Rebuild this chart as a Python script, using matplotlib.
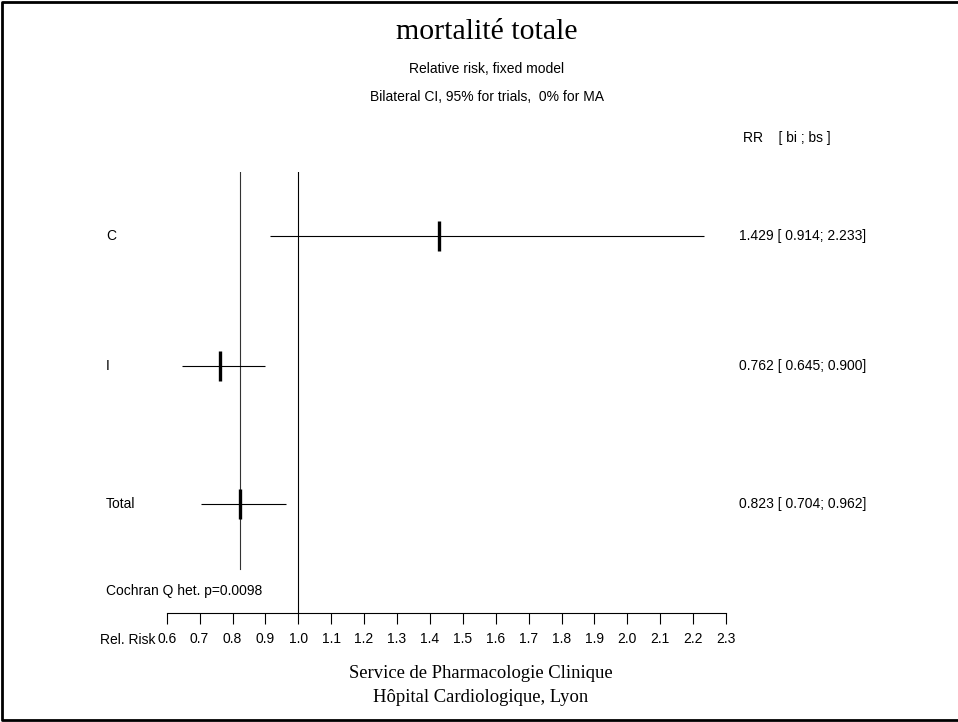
#!/usr/bin/env python3

import matplotlib
matplotlib.use('Agg')
import matplotlib.pyplot as plt
from matplotlib.lines import Line2D
from matplotlib.transforms import blended_transform_factory

# data
studies = ['C', 'I', 'Total']
rr = [1.429, 0.762, 0.823]
ci_low = [0.914, 0.645, 0.704]
ci_high = [2.233, 0.900, 0.962]
row_pos = [1, 2, 3.06]  # Total sits a little lower
xticks = [0.6, 0.7, 0.8, 0.9, 1.0, 1.1, 1.2, 1.3, 1.4, 1.5, 1.6, 1.7, 1.8, 1.9, 2.0, 2.1, 2.2, 2.3]
het_p = 0.0098

W, H = 958, 722
sans = 'Liberation Sans'
serif = 'Liberation Serif'
fs = 10

def fx(px):
    return px / W

def fy(py):
    return 1 - py / H

fig = plt.figure(figsize=(W / 100, H / 100), dpi=100)

# plotting area: x from 0.6 (166.7px) to 2.3 (726px), y from 172px to 613px
ax = fig.add_axes([fx(166.7), fy(613), (726 - 166.7) / W, (613 - 172) / H])
ax.set_xlim(0.6, 2.3)
ax.set_ylim(3.9, 0.508)

for s in ['top', 'left', 'right']:
    ax.spines[s].set_visible(False)
ax.spines['bottom'].set_linewidth(0.8)
ax.set_yticks([])
ax.set_xticks(xticks)
ax.set_xticklabels(['%.1f' % t for t in xticks], fontsize=fs, family=sans)
ax.tick_params(axis='x', direction='out', length=8, width=0.8, pad=6)

# reference line at RR = 1 and pooled estimate line
ax.axvline(1.0, color='black', lw=0.8)
ax.plot([rr[-1], rr[-1]], [ax.get_ylim()[1], 3.56], color='#333333', lw=0.8)

# confidence intervals and estimates
ax.hlines(row_pos, ci_low, ci_high, color='black', lw=0.8)
ax.plot(rr, row_pos, linestyle='none', marker='|', markersize=22, markeredgewidth=2.4, color='black')

# row labels and right-hand column
row_tr = blended_transform_factory(fig.transFigure, ax.transData)
for name, y, r, lo, hi in zip(studies, row_pos, rr, ci_low, ci_high):
    ax.text(fx(106), y, name, transform=row_tr, ha='left', va='center', fontsize=fs, family=sans)
    ax.text(fx(739), y, '%.3f [ %.3f; %.3f]' % (r, lo, hi), transform=row_tr,
            ha='left', va='center', fontsize=fs, family=sans)

fig.text(fx(743), fy(138), 'RR    [ bi ; bs ]', ha='left', va='center', fontsize=fs, family=sans)
fig.text(fx(106), fy(591), 'Cochran Q het. p=%.4f' % het_p, ha='left', va='center', fontsize=fs, family=sans)
fig.text(fx(155), fy(640), 'Rel. Risk', ha='right', va='center', fontsize=fs, family=sans)

# titles
fig.text(fx(487), fy(32), 'mortalité totale', ha='center', va='center', fontsize=21.5, family=serif)
fig.text(fx(487), fy(69), 'Relative risk, fixed model', ha='center', va='center', fontsize=fs, family=sans)
fig.text(fx(487), fy(97), 'Bilateral CI, 95% for trials,  0% for MA', ha='center', va='center', fontsize=fs, family=sans)

# footer
fig.text(fx(481), fy(674), 'Service de Pharmacologie Clinique', ha='center', va='center', fontsize=13.4, family=serif)
fig.text(fx(481), fy(697), 'Hôpital Cardiologique, Lyon', ha='center', va='center', fontsize=13.4, family=serif)

# frame (right side falls outside the picture)
frame = Line2D([fx(W + 10), fx(2), fx(2), fx(W + 10)], [fy(2), fy(2), fy(720), fy(720)],
               transform=fig.transFigure, color='black', lw=2)
fig.add_artist(frame)

fig.savefig('out.png', dpi=100)
